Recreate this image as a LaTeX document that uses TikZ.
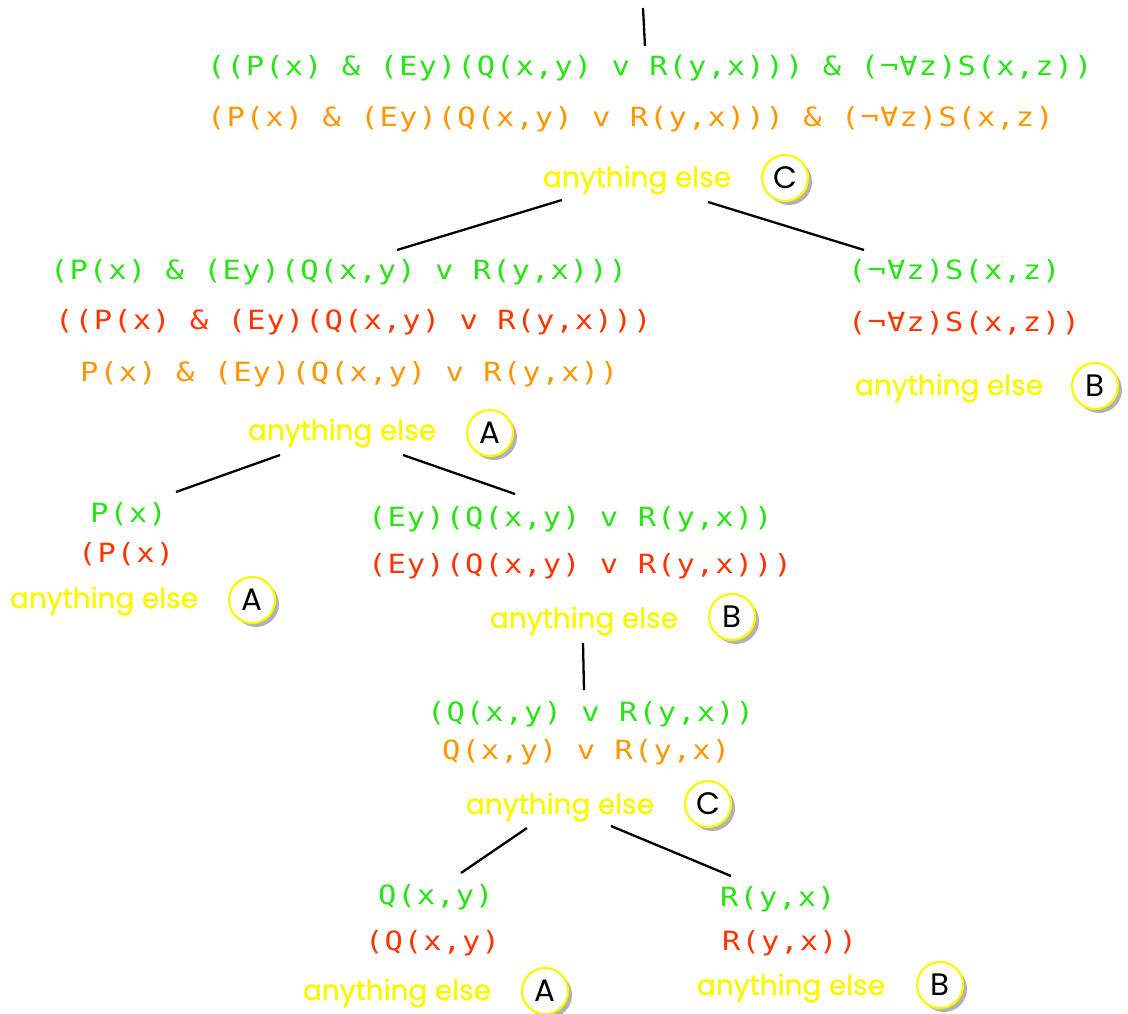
\documentclass[tikz,border=0pt]{standalone}
\usepackage{fontspec}
\usetikzlibrary{shadows}
\newfontfamily\monofont[LetterSpace=4,FakeStretch=1.15]{DejaVu Sans Mono}
\newfontfamily\geofont[FakeBold=1.2]{Poppins}
\newfontfamily\badgefont{Poppins}
\definecolor{fgreen}{RGB}{40,228,20}
\definecolor{forange}{RGB}{255,150,0}
\definecolor{fred}{RGB}{255,52,0}
\definecolor{fyellow}{RGB}{250,248,0}
\tikzset{
  mono/.style={font=\monofont\fontsize{26.5}{26.5}\selectfont, anchor=base west, inner sep=0pt},
  gr/.style={mono, text=fgreen},
  og/.style={mono, text=forange},
  rd/.style={mono, text=fred},
  other/.style={font=\geofont\fontsize{28}{28}\selectfont, text=fyellow, anchor=base, inner sep=0pt},
  badge/.style={circle, draw=fyellow, line width=2.2pt, fill=white, minimum size=46pt, inner sep=0pt,
    font=\badgefont\fontsize{31}{31}\selectfont, text=black,
    drop shadow={shadow xshift=4pt, shadow yshift=-4pt, fill=black, opacity=0.3}},
  edge/.style={draw=black, line width=2.3pt}
}
\begin{document}
\begin{tikzpicture}[x=1pt,y=-1pt]
\useasboundingbox (0,0) rectangle (1128,1013);
% root
\node[gr] (r1) at (207,75) {((P(x) \& (Ey)(Q(x,y) v R(y,x))) \& (¬∀z)S(x,z))};
\node[og] (r2) at (207,126) {(P(x) \& (Ey)(Q(x,y) v R(y,x))) \& (¬∀z)S(x,z)};
\node[other] (re) at (637,187) {anything else};
\node[badge] (rc) at (785,178) {C};
% A
\node[gr] (a1) at (50,279) {(P(x) \& (Ey)(Q(x,y) v R(y,x)))};
\node[rd] (a2) at (55,329) {((P(x) \& (Ey)(Q(x,y) v R(y,x)))};
\node[og] (a3) at (80,381) {P(x) \& (Ey)(Q(x,y) v R(y,x))};
\node[other] (ae) at (342,440) {anything else};
\node[badge] (ac) at (490,433) {A};
% B
\node[gr] (b1) at (848,279) {(¬∀z)S(x,z)};
\node[rd] (b2) at (848,331) {(¬∀z)S(x,z))};
\node[other] (be) at (949,395) {anything else};
\node[badge] (bc) at (1095,386) {B};
% P
\node[gr] (p1) at (90,522) {P(x)};
\node[rd] (p2) at (78,562) {(P(x)};
\node[other] (pe) at (104,608) {anything else};
\node[badge] (pc) at (252,600) {A};
% E
\node[gr] (e1) at (368,526) {(Ey)(Q(x,y) v R(y,x))};
\node[rd] (e2) at (368,573) {(Ey)(Q(x,y) v R(y,x)))};
\node[other] (ee) at (584,628) {anything else};
\node[badge] (ec) at (732,617) {B};
% QR
\node[gr] (q1) at (427,721) {(Q(x,y) v R(y,x))};
\node[og] (q2) at (442,759) {Q(x,y) v R(y,x)};
\node[other] (qe) at (560,814) {anything else};
\node[badge] (qc) at (708,804) {C};
% Q
\node[gr] (s1) at (378,904) {Q(x,y)};
\node[rd] (s2) at (365,950) {(Q(x,y)};
\node[other] (se) at (397,1000) {anything else};
\node[badge] (sc) at (545,991) {A};
% R
\node[gr] (t1) at (720,906) {R(y,x)};
\node[rd] (t2) at (722,950) {R(y,x))};
\node[other] (te) at (791,995) {anything else};
\node[badge] (tc) at (940,985) {B};
% connector ends
\coordinate (top) at (643,8);
\coordinate (rin) at (645,46);
\coordinate (rl) at (562,200);
\coordinate (rr) at (708,202);
\coordinate (ain) at (397,250);
\coordinate (bin) at (864,250);
\coordinate (al) at (280,455);
\coordinate (ar) at (403,455);
\coordinate (pin) at (176,492);
\coordinate (ein) at (515,494);
\coordinate (eout) at (583,643);
\coordinate (qin) at (584,690);
\coordinate (ql) at (527,828);
\coordinate (qr) at (611,826);
\coordinate (sin) at (461,873);
\coordinate (tin) at (731,876);
\draw[edge] (top) -- (rin);
\draw[edge] (rl) -- (ain);
\draw[edge] (rr) -- (bin);
\draw[edge] (al) -- (pin);
\draw[edge] (ar) -- (ein);
\draw[edge] (eout) -- (qin);
\draw[edge] (ql) -- (sin);
\draw[edge] (qr) -- (tin);
\end{tikzpicture}
\end{document}
